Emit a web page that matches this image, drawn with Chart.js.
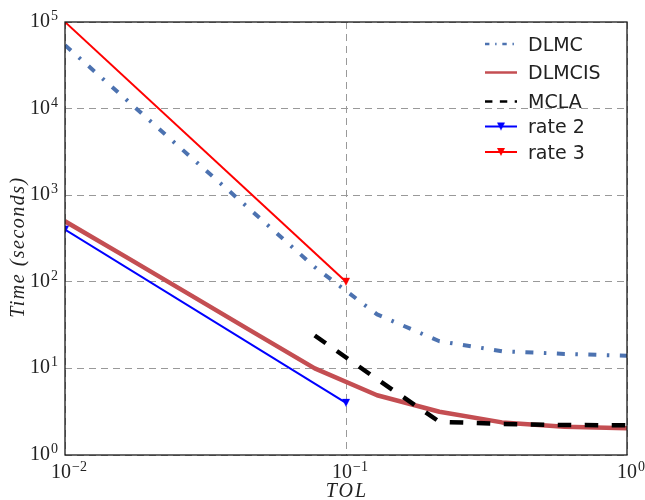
<!DOCTYPE html>
<html>
<head>
<meta charset="utf-8">
<title>Time vs TOL</title>
<script src="https://cdn.jsdelivr.net/npm/chart.js@4.4.0/dist/chart.umd.min.js"></script>
<style>
  body { margin: 0; background: #fff; }
  #wrap { width: 645px; height: 500px; }
</style>
</head>
<body>
<div id="wrap"><canvas id="chart" width="645" height="500"></canvas></div>
<script>
// tolerances (log spaced, 1e-2 .. 1) and run times in seconds
var tol = [0.01, 0.0167, 0.0278, 0.0464, 0.0774, 0.129, 0.215, 0.359, 0.599, 1.0];
var dlmcTime = [54000, 12300, 2820, 650, 148, 42, 20.6, 15.8, 14.7, 14.0];
var dlmcisTime = [500, 189, 71, 26.6, 10, 4.9, 3.16, 2.38, 2.12, 2.03];
var mclaTime = [null, null, null, null, 24, 7.5, 2.42, 2.28, 2.22, 2.2];

// reference slopes
var rateTol = [0.01, 0.1];
var rate2Time = [400, 4];
var rate3Time = [100000, 100];

var xTicks = [0.01, 0.1, 1];
var yTicks = [1, 10, 100, 1000, 10000, 100000];

var serif = '"Liberation Serif", "DejaVu Serif", serif';
var textColor = '#222222';

function toPoints(xs, ys) {
	var pts = [];
	for (var i = 0; i < xs.length; i++) {
		if (ys[i] !== null) pts.push({x: xs[i], y: ys[i]});
	}
	return pts;
}

// downward triangle marker
function makeTriangle(color) {
	var c = document.createElement('canvas');
	c.width = 10;
	c.height = 10;
	var g = c.getContext('2d');
	g.fillStyle = color;
	g.beginPath();
	g.moveTo(1, 1);
	g.lineTo(9, 1);
	g.lineTo(5, 9);
	g.closePath();
	g.fill();
	return c;
}

var blueTri = makeTriangle('#0000ff');
var redTri = makeTriangle('#ff0000');

// "10" with a superscript exponent
function drawPower(ctx, value, x, y, align) {
	var exp = Math.round(Math.log10(value));
	var expText = exp < 0 ? '\u2212' + (-exp) : String(exp);
	ctx.font = '20px ' + serif;
	var wBase = ctx.measureText('10').width;
	ctx.font = '14px ' + serif;
	var wExp = ctx.measureText(expText).width;
	var total = wBase + 1 + wExp;
	var left = align === 'right' ? x - total : x - total / 2;
	ctx.textAlign = 'left';
	ctx.textBaseline = 'alphabetic';
	ctx.font = '20px ' + serif;
	ctx.fillText('10', left, y);
	ctx.font = '14px ' + serif;
	ctx.fillText(expText, left + wBase + 1, y - 7);
}

var legendRows = [44, 72.5, 101.5, 126.5, 152];

var decorations = {
	id: 'decorations',
	afterDatasetsDraw: function(chart) {
		var ctx = chart.ctx, a = chart.chartArea;
		ctx.save();
		ctx.strokeStyle = '#1a1a1a';
		ctx.lineWidth = 1.3;
		ctx.strokeRect(a.left, a.top, a.right - a.left, a.bottom - a.top);
		ctx.restore();
	},
	afterDraw: function(chart) {
		var ctx = chart.ctx;
		var xs = chart.scales.x, ys = chart.scales.y;
		ctx.save();
		ctx.fillStyle = textColor;

		// tick labels
		yTicks.forEach(function(v) {
			drawPower(ctx, v, 58, ys.getPixelForValue(v) + 5, 'right');
		});
		xTicks.forEach(function(v) {
			drawPower(ctx, v, xs.getPixelForValue(v) + 4, 478, 'center');
		});

		// axis titles
		ctx.font = 'italic 20px ' + serif;
		ctx.letterSpacing = '2px';
		ctx.textAlign = 'center';
		ctx.textBaseline = 'alphabetic';
		ctx.fillText('TOL', 347, 497);

		ctx.save();
		ctx.translate(24, 247);
		ctx.rotate(-Math.PI / 2);
		ctx.letterSpacing = '1.5px';
		ctx.fillText('Time (seconds)', 0, 0);
		ctx.restore();
		ctx.letterSpacing = '0px';

		// legend
		var x0 = 485, x1 = 517;
		chart.data.datasets.forEach(function(ds, i) {
			var y = legendRows[i];
			ctx.save();
			ctx.strokeStyle = ds.borderColor;
			ctx.lineWidth = Math.min(ds.borderWidth, 2.5);
			ctx.setLineDash((ds.borderDash || []).map(function(d) { return d * 0.55; }));
			ctx.beginPath();
			ctx.moveTo(x0, y);
			ctx.lineTo(x1, y);
			ctx.stroke();
			ctx.restore();
			if (ds.pointStyle instanceof HTMLCanvasElement) {
				ctx.drawImage(ds.pointStyle, (x0 + x1) / 2 - 5, y - 5);
			}
			ctx.font = '19px "DejaVu Sans", sans-serif';
			ctx.textAlign = 'left';
			ctx.textBaseline = 'alphabetic';
			ctx.fillStyle = textColor;
			ctx.fillText(ds.label, 528, y + 6.5);
		});
		ctx.restore();
	}
};

function decades(list) {
	return function(scale) {
		scale.ticks = list.map(function(v) { return {value: v}; });
	};
}

var ctxChart = document.getElementById('chart').getContext('2d');

new Chart(ctxChart, {
	type: 'line',
	data: {
		datasets: [{
			label: 'DLMC',
			data: toPoints(tol, dlmcTime),
			borderColor: '#4c72b0',
			borderWidth: 4,
			borderDash: [8, 10.5, 2.5, 10.5],
			pointRadius: 0,
			order: 5
		}, {
			label: 'DLMCIS',
			data: toPoints(tol, dlmcisTime),
			borderColor: '#c44e52',
			borderWidth: 4.5,
			pointRadius: 0,
			order: 4
		}, {
			label: 'MCLA',
			data: toPoints(tol, mclaTime),
			borderColor: '#000000',
			borderWidth: 4.5,
			borderDash: [13.5, 13.5],
			pointRadius: 0,
			order: 3
		}, {
			label: 'rate 2',
			data: toPoints(rateTol, rate2Time),
			borderColor: '#0000ff',
			borderWidth: 2,
			pointStyle: blueTri,
			pointRadius: 5,
			order: 2
		}, {
			label: 'rate 3',
			data: toPoints(rateTol, rate3Time),
			borderColor: '#ff0000',
			borderWidth: 2,
			pointStyle: redTri,
			pointRadius: 5,
			order: 1
		}]
	},
	options: {
		responsive: false,
		animation: false,
		devicePixelRatio: 1,
		layout: {padding: {top: 22, right: 18, left: 0, bottom: 0}},
		elements: {line: {tension: 0, borderCapStyle: 'butt', borderJoinStyle: 'round'}},
		plugins: {
			legend: {display: false},
			tooltip: {enabled: false}
		},
		scales: {
			x: {
				type: 'logarithmic',
				min: 0.01,
				max: 1,
				afterBuildTicks: decades(xTicks),
				afterFit: function(scale) { scale.height = 45; },
				ticks: {display: false},
				grid: {color: '#999999', lineWidth: 1, drawTicks: false},
				border: {display: false, dash: [7, 5]}
			},
			y: {
				type: 'logarithmic',
				min: 1,
				max: 100000,
				afterBuildTicks: decades(yTicks),
				afterFit: function(scale) { scale.width = 65; },
				ticks: {display: false},
				grid: {color: '#999999', lineWidth: 1, drawTicks: false},
				border: {display: false, dash: [7, 5]}
			}
		}
	},
	plugins: [decorations]
});
</script>
</body>
</html>
